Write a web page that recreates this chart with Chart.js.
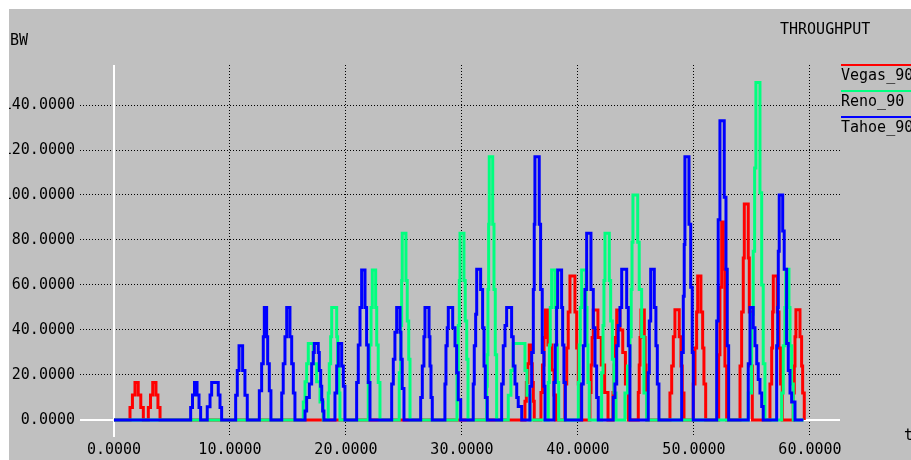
<!DOCTYPE html>
<html>
<head>
<meta charset="utf-8">
<title>THROUGHPUT</title>
<script src="https://cdn.jsdelivr.net/npm/chart.js@4.4.1/dist/chart.umd.min.js"></script>
<style>
    html, body { margin: 0; padding: 0; background: #fff; }
    #box { position: absolute; left: 9px; top: 9px; width: 902px; height: 451px; background: #c0c0c0; }
</style>
</head>
<body>
<div id="box"><canvas id="bwChart"></canvas></div>
<script>
// Vegas_90 (rojo)
const vegasTime = [0,
    1.38, 1.59, 1.81, 2.09, 2.31, 2.53,
    2.96, 3.15, 3.34, 3.62, 3.79, 3.97,
    35.43, 35.55, 35.68, 35.8, 35.97, 36.06, 36.15, 36.23,
    36.81, 36.94, 37.07, 37.2, 37.41, 37.76, 37.93, 38.1,
    38.88, 39.03, 39.16, 39.31, 39.74, 39.89, 40.03, 40.17,
    41.03, 41.13, 41.22, 41.32, 41.72, 42.01, 42.3, 42.59,
    43.02, 43.12, 43.23, 43.34, 43.62, 43.86, 44.09, 44.34,
    45.2, 45.28, 45.35, 45.43, 45.72, 45.79, 45.87, 45.95,
    47.93, 48.08, 48.22, 48.36, 48.73, 48.88, 48.99, 49.14,
    49.94, 50.09, 50.23, 50.32, 50.6, 50.75, 50.86, 51.01,
    52.13, 52.24, 52.39, 52.53, 52.67, 52.82,
    53.97, 54.11, 54.25, 54.34, 54.68, 54.77, 54.89, 55.03,
    56.55, 56.7, 56.78, 56.84, 57.18, 57.33, 57.47, 57.61,
    58.56, 58.65, 58.71, 58.79, 59.14, 59.28, 59.37, 59.51];
const vegasBW = [0,
    5.6, 11.1, 16.7, 11.1, 5.6, 0,
    5.6, 11.1, 16.7, 11.1, 5.6, 0,
    8.3, 16.7, 25, 33.3, 25, 16.7, 8.3, 0,
    12.2, 24.4, 36.7, 48.9, 33.3, 22.2, 11.1, 0,
    16, 32, 48, 64, 48, 32, 16, 0,
    12.2, 24.4, 36.7, 48.9, 36.7, 24.4, 12.2, 0,
    12.2, 24.4, 36.7, 48.9, 40, 30, 16, 0,
    12.2, 24.4, 36.7, 48.9, 36.7, 24.4, 12.2, 0,
    12, 24, 37, 49, 37, 24, 12, 0,
    16, 32, 48, 64, 48, 32, 16, 0,
    29, 59, 88, 67, 24, 0,
    24, 48, 72, 96, 72, 48, 24, 0,
    16, 32, 48, 64, 48, 32, 16, 0,
    12, 24, 37, 49, 37, 24, 12, 0];

// Reno_90 (verde)
const renoTime = [0,
    16.32, 16.47, 16.61, 16.75, 17.18, 17.47, 17.76, 18.04,
    18.47, 18.56, 18.68, 18.77, 19.2, 19.28, 19.4, 19.48,
    21.92, 22.04, 22.16, 22.27, 22.56, 22.65, 22.78, 22.93,
    24.59, 24.72, 24.8, 24.85, 25.17, 25.28, 25.41, 25.52,
    29.57, 29.68, 29.77, 29.83, 30.17, 30.28, 30.41, 30.52,
    32.13, 32.18, 32.24, 32.3, 32.35, 32.65, 32.76, 32.87, 32.99,
    33.99, 34.22, 34.42, 35.43, 35.6, 35.86,
    37.44, 37.53, 37.61, 37.73, 38.02, 38.13, 38.22, 38.34,
    40.03, 40.11, 40.2, 40.32, 40.69, 40.78, 40.86, 40.97,
    42.04, 42.16, 42.24, 42.33, 42.7, 42.82, 42.96, 43.1, 43.28,
    44.05, 44.27, 44.48, 44.59, 44.66, 44.74, 45.15, 45.28, 45.49, 45.69, 45.92,
    54.68, 54.97, 55.11, 55.23, 55.34, 55.69, 55.84, 55.97, 56.12,
    57.56, 57.7, 57.84, 57.91, 58.19, 58.28, 58.42, 58.56,
    59.45];
const renoBW = [0,
    8, 17, 25, 34, 25, 17, 8, 0,
    12, 25, 37, 50, 37, 25, 12, 0,
    16.7, 33.3, 50, 66.7, 50, 33.3, 16.7, 0,
    21, 42, 62, 83, 62, 44, 27, 0,
    21, 42, 62, 83, 62, 44, 27, 0,
    15, 29, 58, 87, 117, 87, 58, 29, 0,
    11, 22, 34, 22, 11, 0,
    16.7, 33.3, 50, 66.7, 50, 33.3, 16.7, 0,
    16.7, 33.3, 50, 66.7, 50, 33.3, 16.7, 0,
    21, 42, 62, 83, 62, 44, 27, 12, 0,
    12, 24, 37, 58, 79, 100, 79, 58, 37, 12, 0,
    12, 47, 75, 112, 150, 101, 60, 25, 0,
    12, 33, 50, 67, 50, 33, 16, 0,
    0];

// Tahoe_90 (azul)
const tahoeTime = [0,
    6.61, 6.77, 6.94, 7.16, 7.33, 7.47,
    8.04, 8.28, 8.42, 8.99, 9.14, 9.28,
    10.49, 10.63, 10.78, 11.09, 11.29, 11.49,
    12.53, 12.73, 12.87, 12.96, 13.16, 13.25, 13.39, 13.53,
    14.46, 14.59, 14.74, 14.89, 15.17, 15.32, 15.46, 15.6,
    16.47, 16.61, 16.84, 17.04, 17.18, 17.27, 17.61, 17.7, 17.82, 17.91, 17.99, 18.1,
    19.05, 19.2, 19.34, 19.63, 19.77, 19.91,
    20.92, 21.06, 21.21, 21.35, 21.64, 21.78, 21.92, 22.07,
    23.94, 24.08, 24.22, 24.37, 24.66, 24.74, 24.85, 25.0,
    26.44, 26.58, 26.72, 26.81, 27.16, 27.24, 27.33, 27.44,
    28.53, 28.62, 28.73, 28.82, 29.2, 29.4, 29.54, 29.68, 29.89,
    30.97, 31.06, 31.18, 31.27, 31.61, 31.78, 31.9, 32.01, 32.18,
    33.42, 33.56, 33.71, 33.85, 34.28, 34.42, 34.57, 34.72, 34.85, 35.15,
    35.86, 36.01, 36.15, 36.23, 36.29, 36.66, 36.78, 36.92, 37.07, 37.16,
    37.93, 38.04, 38.16, 38.25, 38.59, 38.68, 38.79, 38.91,
    40.32, 40.46, 40.6, 40.75, 41.12, 41.32, 41.47, 41.61, 41.75,
    43.04, 43.19, 43.34, 43.47, 43.62, 43.77, 44.2, 44.34, 44.48,
    46.06, 46.15, 46.27, 46.58, 46.72, 46.84, 46.98,
    48.94, 49.08, 49.16, 49.22, 49.57, 49.72, 49.85, 49.94,
    51.96, 52.09, 52.24, 52.61, 52.76, 52.87, 52.99,
    54.68, 54.83, 55.11, 55.26, 55.41, 55.54, 55.69, 55.84, 55.97,
    57.13, 57.22, 57.27, 57.35, 57.65, 57.78, 57.99, 58.13, 58.28, 58.42, 58.71,
    59.43];
const tahoeBW = [0,
    5.6, 11.1, 16.7, 11.1, 5.6, 0,
    5.9, 11.1, 16.7, 11.1, 5.6, 0,
    11, 22, 33, 22, 11, 0,
    13, 25, 37, 50, 37, 25, 13, 0,
    12, 25, 37, 50, 37, 25, 12, 0,
    4, 10, 16, 25, 30, 34, 30, 22, 15, 9, 4, 0,
    12, 24, 34, 24, 15, 0,
    16.7, 33.3, 50, 66.7, 50, 33.3, 16.7, 0,
    16, 27, 39, 50, 39, 27, 14, 0,
    10, 24, 37, 50, 37, 24, 10, 0,
    16, 33, 41, 50, 41, 33, 21, 9, 0,
    16, 33, 47, 67, 58, 41, 24, 10, 0,
    16, 33, 42, 50, 37, 24, 16, 10, 6, 0,
    15, 30, 58, 87, 117, 87, 58, 30, 15, 0,
    16.7, 33.3, 50, 66.7, 50, 33.3, 16.7, 0,
    16, 33, 58, 83, 58, 41, 24, 10, 0,
    10, 16, 33, 42, 50, 67, 50, 33, 0,
    21, 44, 67, 50, 33, 16, 0,
    30, 55, 78, 117, 87, 59, 30, 0,
    44, 89, 133, 99, 67, 33, 0,
    25, 50, 41, 33, 25, 18, 12, 6, 0,
    33, 50, 75, 100, 84, 67, 34, 22, 12, 8, 0,
    0];

const seriesNames = ['Vegas_90', 'Reno_90', 'Tahoe_90'];
const seriesColors = ['#ff0000', '#00ff7f', '#0000ff'];
const xTickStep = 10;
const yTickStep = 20;

const toPoints = (ts, vs) => ts.map((t, i) => ({ x: t, y: vs[i] }));
const monoFont = { family: "'DejaVu Sans Mono', monospace", size: 15 };
const gridColor = c => (c.tick && c.tick.value === 0) ? 'rgba(0,0,0,0)' : '#000';

// Ejes blancos en el cero
const zeroAxes = {
    id: 'zeroAxes',
    beforeDatasetsDraw(chart) {
        const { ctx, chartArea: a, scales: { x, y } } = chart;
        const x0 = Math.round(x.getPixelForValue(0));
        const y0 = Math.round(y.getPixelForValue(0));
        ctx.save();
        ctx.strokeStyle = '#fff';
        ctx.lineWidth = 2;
        ctx.beginPath();
        ctx.moveTo(x0, a.top);
        ctx.lineTo(x0, a.bottom);
        ctx.moveTo(a.left, y0);
        ctx.lineTo(a.right, y0);
        ctx.stroke();
        ctx.restore();
    }
};

// Títulos y leyenda estilo xgraph
const xgraphText = {
    id: 'xgraphText',
    afterDraw(chart) {
        const { ctx } = chart;
        ctx.save();
        ctx.fillStyle = '#000';
        ctx.font = "15px 'DejaVu Sans Mono', monospace";
        ctx.textBaseline = 'middle';
        ctx.textAlign = 'left';
        ctx.fillText('BW', 1, 32);
        ctx.fillText('THROUGHPUT', 771, 21);
        ctx.fillText('t', 895, 427);
        seriesNames.forEach((name, i) => {
            const ly = 56 + i * 26;
            ctx.strokeStyle = seriesColors[i];
            ctx.lineWidth = 2;
            ctx.beginPath();
            ctx.moveTo(832, ly);
            ctx.lineTo(902, ly);
            ctx.stroke();
            ctx.fillStyle = '#000';
            ctx.fillText(name, 832, ly + 11);
        });
        ctx.restore();
    }
};

new Chart(document.getElementById('bwChart'), {
    type: 'line',
    data: {
        datasets: [
            { label: seriesNames[0], data: toPoints(vegasTime, vegasBW), borderColor: seriesColors[0], order: 2 },
            { label: seriesNames[1], data: toPoints(renoTime, renoBW), borderColor: seriesColors[1], order: 1 },
            { label: seriesNames[2], data: toPoints(tahoeTime, tahoeBW), borderColor: seriesColors[2], order: 0 }
        ].map(d => Object.assign(d, { stepped: true, borderWidth: 3, pointRadius: 0, fill: false }))
    },
    options: {
        responsive: true,
        maintainAspectRatio: false,
        animation: false,
        layout: { padding: { top: 56, right: 71, left: 0, bottom: 0 } },
        plugins: { legend: { display: false }, tooltip: { enabled: false } },
        scales: {
            x: {
                type: 'linear',
                min: -2.93,
                max: 62.59,
                afterFit: s => { s.height = 23; },
                ticks: {
                    stepSize: xTickStep, includeBounds: false, autoSkip: false, maxRotation: 0,
                    padding: 4, color: '#000', font: monoFont,
                    callback: v => v.toFixed(4)
                },
                grid: { color: gridColor, lineWidth: 1, drawTicks: false },
                border: { display: false, dash: [1, 2] }
            },
            y: {
                type: 'linear',
                min: -7.56,
                max: 157.78,
                afterFit: s => { s.width = 71; },
                ticks: {
                    stepSize: yTickStep, includeBounds: false, autoSkip: false,
                    padding: 5, color: '#000', font: monoFont,
                    callback: v => v.toFixed(4)
                },
                grid: { color: gridColor, lineWidth: 1, drawTicks: false },
                border: { display: false, dash: [1, 2] }
            }
        }
    },
    plugins: [zeroAxes, xgraphText]
});
</script>
</body>
</html>
